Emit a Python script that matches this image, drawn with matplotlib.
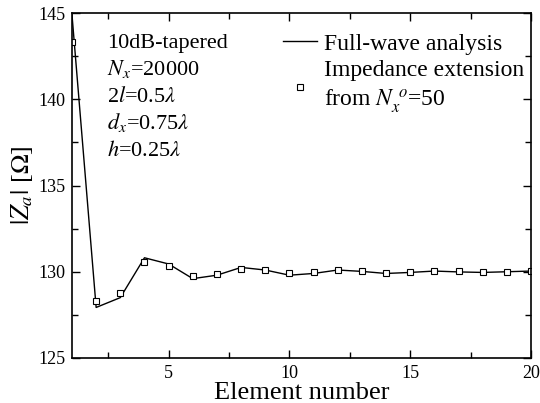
import matplotlib
matplotlib.use("Agg")
import matplotlib.pyplot as plt
from matplotlib.ticker import MultipleLocator

plt.rcParams['font.family'] = ['Liberation Serif', 'DejaVu Serif']
plt.rcParams['mathtext.fontset'] = 'stix'

elements = list(range(1, 21))
# full-wave analysis (line)
full_wave = [144.9, 127.93, 128.5, 130.81, 130.45, 129.6, 129.8, 130.25, 130.1, 129.8,
             129.9, 130.1, 130.02, 129.9, 129.96, 130.04, 129.99, 129.96, 130.0, 130.04]
# impedance extension from Nx^o = 50 (markers)
extension = [143.3, 128.3, 128.76, 130.58, 130.35, 129.75, 129.86, 130.15, 130.08, 129.9,
             129.96, 130.08, 130.02, 129.94, 130.0, 130.04, 130.02, 129.98, 130.0, 130.02]

fig = plt.figure(figsize=(5.4, 4.03), dpi=100)
ax = fig.add_axes([0.1333, 0.1117, 0.85, 0.856])

ax.plot(elements, full_wave, color='black', lw=1.0, label='Full-wave analysis')
ax.plot(elements, extension, ls='none', marker='s', ms=4.5, mfc='white', mec='black',
        mew=0.8, label='Impedance extension\nfrom $N_x^{\\ o}$=50')

ax.set_xlim(1, 20)
ax.set_ylim(125, 145)
ax.xaxis.set_major_locator(MultipleLocator(5))
ax.xaxis.set_minor_locator(MultipleLocator(2.5))
ax.yaxis.set_major_locator(MultipleLocator(5))
ax.yaxis.set_minor_locator(MultipleLocator(2.5))
ax.tick_params(which='both', direction='in', top=True, right=True, width=1.0)
ax.tick_params(which='major', length=6, labelsize=13, pad=5)
ax.tick_params(which='minor', length=4)
for s in ax.spines.values():
    s.set_linewidth(1.2)

ax.set_xlabel('Element number', fontsize=19, labelpad=0)
ax.set_ylabel('$|Z_a|$ [$\\Omega$]', fontsize=19, labelpad=2)

notes = ['10dB-tapered', '$N_x$=20000', '2$l$=0.5$\\lambda$', '$d_x$=0.75$\\lambda$', '$h$=0.25$\\lambda$']
for i, t in enumerate(notes):
    ax.text(0.076, 0.898 - i * 0.078, t, transform=ax.transAxes, fontsize=16, va='baseline')

leg = ax.legend(loc='upper left', bbox_to_anchor=(0.428, 0.983), frameon=False, fontsize=17,
                handlelength=1.45, handletextpad=0.3, labelspacing=0.25, borderaxespad=0.2)
leg.get_texts()[1].set_linespacing(1.3)

fig.savefig('out.png', dpi=100)
